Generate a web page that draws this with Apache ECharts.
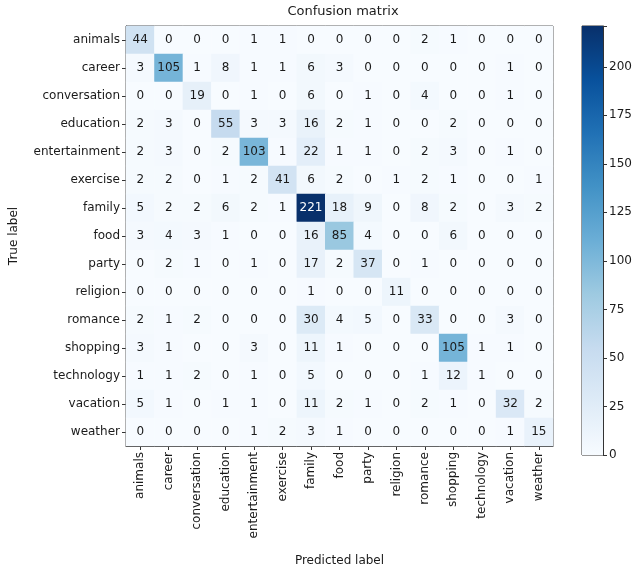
<!DOCTYPE html>
<html><head><meta charset="utf-8">
<script src="https://cdn.jsdelivr.net/npm/echarts@6/dist/echarts.min.js"></script>
<style>html,body{margin:0;padding:0;background:#fff}#c{width:637px;height:572px}</style>
</head><body><div id="c"></div>
<script>
const categories = ['animals','career','conversation','education','entertainment','exercise','family','food','party','religion','romance','shopping','technology','vacation','weather'];
const matrix = [
  [44,0,0,0,1,1,0,0,0,0,2,1,0,0,0],
  [3,105,1,8,1,1,6,3,0,0,0,0,0,1,0],
  [0,0,19,0,1,0,6,0,1,0,4,0,0,1,0],
  [2,3,0,55,3,3,16,2,1,0,0,2,0,0,0],
  [2,3,0,2,103,1,22,1,1,0,2,3,0,1,0],
  [2,2,0,1,2,41,6,2,0,1,2,1,0,0,1],
  [5,2,2,6,2,1,221,18,9,0,8,2,0,3,2],
  [3,4,3,1,0,0,16,85,4,0,0,6,0,0,0],
  [0,2,1,0,1,0,17,2,37,0,1,0,0,0,0],
  [0,0,0,0,0,0,1,0,0,11,0,0,0,0,0],
  [2,1,2,0,0,0,30,4,5,0,33,0,0,3,0],
  [3,1,0,0,3,0,11,1,0,0,0,105,1,1,0],
  [1,1,2,0,1,0,5,0,0,0,1,12,1,0,0],
  [5,1,0,1,1,0,11,2,1,0,2,1,0,32,2],
  [0,0,0,0,1,2,3,1,0,0,0,0,0,1,15]
];
const colorbarTicks = [0,25,50,75,100,125,150,175,200];
const blues = ['#f7fbff','#deebf7','#c6dbef','#9ecae1','#6baed6','#4292c6','#2171b5','#08519c','#08306b'];

const maxVal = Math.max(...matrix.flat());
const thresh = maxVal / 2;
const data = [];
matrix.forEach((row, i) => row.forEach((v, j) => {
  data.push({value: [j, i, v], label: {color: v > thresh ? '#ffffff' : '#1a1a1a'}});
}));

const font = 'DejaVu Sans';
const chart = echarts.init(document.getElementById('c'));
chart.setOption({
  animation: false,
  backgroundColor: '#fff',
  title: {text: 'Confusion matrix', left: 338, top: 0, textAlign: 'center',
    textStyle: {fontFamily: font, fontSize: 13, fontWeight: 'normal', color: '#1a1a1a'}},
  grid: [
    {left: 124, top: 26, width: 429, height: 429, show: true, borderColor: '#333', borderWidth: 1, backgroundColor: 'transparent'},
    {left: 582, top: 26, width: 21, height: 429, show: true, borderColor: '#333', borderWidth: 1, backgroundColor: 'transparent'}
  ],
  xAxis: [
    {type: 'category', data: categories, gridIndex: 0, position: 'bottom',
      name: 'Predicted label', nameLocation: 'middle', nameGap: 109,
      nameTextStyle: {fontFamily: font, fontSize: 12, color: '#1a1a1a'},
      axisLine: {show: true, lineStyle: {color: '#333'}},
      axisTick: {show: true, alignWithLabel: true, length: 4, lineStyle: {color: '#333'}},
      axisLabel: {rotate: 90, interval: 0, fontFamily: font, fontSize: 12, color: '#1a1a1a', margin: 6},
      splitLine: {show: false}},
    {type: 'category', data: ['c'], gridIndex: 1, show: false}
  ],
  yAxis: [
    {type: 'category', data: categories, gridIndex: 0, inverse: true,
      name: 'True label', nameLocation: 'middle', nameGap: 106, nameRotate: 90,
      nameTextStyle: {fontFamily: font, fontSize: 12, color: '#1a1a1a'},
      axisLine: {show: true, lineStyle: {color: '#333'}},
      axisTick: {show: true, alignWithLabel: true, length: 4, lineStyle: {color: '#333'}},
      axisLabel: {interval: 0, fontFamily: font, fontSize: 12, color: '#1a1a1a', margin: 6},
      splitLine: {show: false}},
    {type: 'value', gridIndex: 1, position: 'right', min: 0, max: maxVal, interval: 25,
      axisLine: {show: true, lineStyle: {color: '#333'}},
      axisTick: {show: true, length: 4, lineStyle: {color: '#333'}},
      axisLabel: {fontFamily: font, fontSize: 12, color: '#1a1a1a', margin: 6,
        formatter: v => colorbarTicks.includes(v) ? String(v) : ''},
      splitLine: {show: false}}
  ],
  visualMap: {show: false, type: 'continuous', min: 0, max: maxVal, seriesIndex: 0, dimension: 2,
    inRange: {color: blues}},
  series: [
    {type: 'heatmap', xAxisIndex: 0, yAxisIndex: 0, data: data,
      label: {show: true, fontFamily: font, fontSize: 12},
      itemStyle: {borderWidth: 0},
      emphasis: {disabled: true}},
    {type: 'bar', xAxisIndex: 1, yAxisIndex: 1, data: [maxVal], barWidth: '100%', silent: true,
      itemStyle: {color: new echarts.graphic.LinearGradient(0, 1, 0, 0,
        blues.map((c, k) => ({offset: k / (blues.length - 1), color: c})))}}
  ]
});
</script></body></html>
